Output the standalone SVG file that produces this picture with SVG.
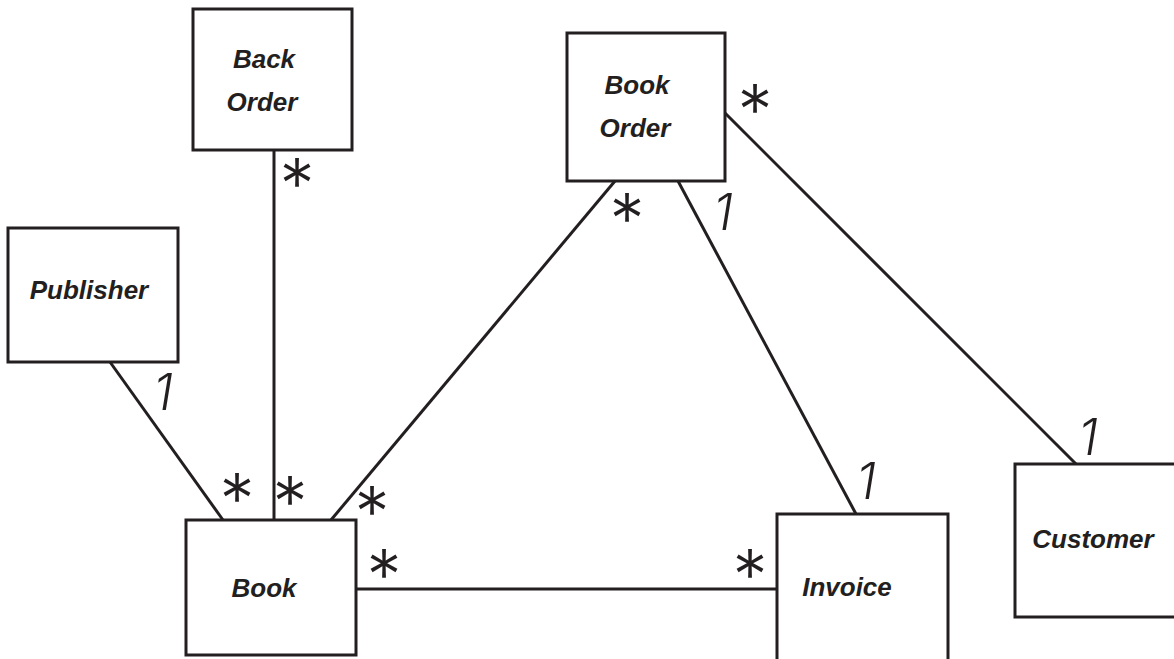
<svg xmlns="http://www.w3.org/2000/svg" width="1174" height="659" viewBox="0 0 1174 659">
  <style>
    .box { fill: #ffffff; stroke: #231f20; stroke-width: 3; }
    .link { stroke: #231f20; stroke-width: 3; fill: none; }
    .name { font-family: "Liberation Sans", Arial, sans-serif; font-size: 26px; font-weight: bold; font-style: italic; fill: #231f20; text-anchor: middle; }
    .star { font-family: Inter, "Liberation Sans", sans-serif; font-size: 70px; font-weight: 300; fill: #231f20; text-anchor: middle; }
    .one { font-family: Inter, "Liberation Sans", sans-serif; font-size: 50px; font-weight: 300; font-style: italic; fill: #231f20; text-anchor: middle; }
  </style>
  <rect width="1174" height="659" fill="#ffffff"/>

  <g id="connectors">
    <line class="link" x1="110" y1="362" x2="223" y2="520"/>
    <line class="link" x1="274" y1="150" x2="274" y2="520"/>
    <line class="link" x1="615" y1="181" x2="331" y2="520"/>
    <line class="link" x1="678" y1="181" x2="856" y2="514"/>
    <line class="link" x1="725" y1="113" x2="1076" y2="464"/>
    <line class="link" x1="356" y1="589" x2="777" y2="589"/>
    <!-- multiplicities -->
    <text class="one" x="163" y="410">1</text>
    <text class="star" x="237" y="524">*</text>
    <text class="star" x="290" y="527">*</text>
    <text class="star" x="297" y="209">*</text>
    <text class="star" x="372" y="537">*</text>
    <text class="star" x="627" y="244">*</text>
    <text class="one" x="723" y="230">1</text>
    <text class="star" x="755" y="135">*</text>
    <text class="star" x="384" y="600">*</text>
    <text class="star" x="750" y="600">*</text>
    <text class="one" x="866" y="499">1</text>
    <text class="one" x="1088" y="455">1</text>
  </g>

  <g id="back-order">
    <rect class="box" x="193" y="9" width="159" height="141"/>
    <text class="name" x="264" y="68">Back</text>
    <text class="name" x="262" y="111">Order</text>
  </g>
  <g id="book-order">
    <rect class="box" x="567" y="33" width="158" height="148"/>
    <text class="name" x="637" y="94">Book</text>
    <text class="name" x="635" y="137">Order</text>
  </g>
  <g id="publisher">
    <rect class="box" x="8" y="228" width="170" height="134"/>
    <text class="name" x="89" y="299">Publisher</text>
  </g>
  <g id="book">
    <rect class="box" x="186" y="520" width="170" height="135"/>
    <text class="name" x="264" y="597">Book</text>
  </g>
  <g id="invoice">
    <rect class="box" x="777" y="514" width="171" height="160"/>
    <text class="name" x="847" y="596">Invoice</text>
  </g>
  <g id="customer">
    <rect class="box" x="1015" y="464" width="170" height="153"/>
    <text class="name" x="1093" y="548">Customer</text>
  </g>
</svg>
